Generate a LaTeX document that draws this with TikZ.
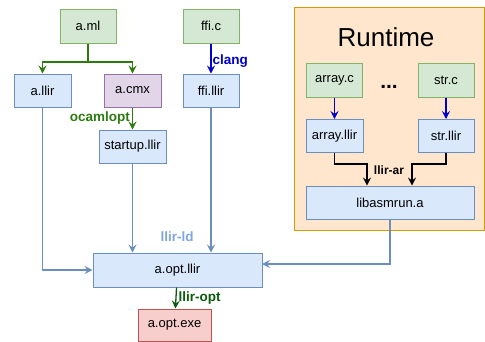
\documentclass[tikz,border=0pt]{standalone}
\usepackage{fontspec}
\setmainfont{Liberation Sans}
\usetikzlibrary{positioning,arrows.meta,calc}

\definecolor{grfill}{HTML}{D5E8D4}
\definecolor{grline}{HTML}{82B366}
\definecolor{blfill}{HTML}{DAE8FC}
\definecolor{blline}{HTML}{6C8EBF}
\definecolor{pufill}{HTML}{E1D5E7}
\definecolor{puline}{HTML}{9673A6}
\definecolor{rdfill}{HTML}{F8CECC}
\definecolor{rdline}{HTML}{B85450}
\definecolor{orfill}{HTML}{FFE6CC}
\definecolor{orline}{HTML}{D79B00}
\definecolor{toolgreen}{HTML}{2D7A10}
\definecolor{optgreen}{HTML}{0B5A0B}
\definecolor{ldblue}{HTML}{7EA6E0}
\definecolor{ccblue}{HTML}{0000CC}

\begin{document}
\begin{tikzpicture}[
  x=1pt, y=-1pt,
  font=\fontsize{13}{15}\selectfont,
  >={Stealth[length=8pt,width=8pt,inset=3pt]},
  srcbox/.style={draw=grline, fill=grfill, line width=1pt, minimum width=56pt, minimum height=34pt, inner sep=0pt},
  irbox/.style={draw=blline, fill=blfill, line width=1pt, minimum width=57pt, minimum height=33pt, inner sep=0pt},
  cmxbox/.style={draw=puline, fill=pufill, line width=1pt, minimum width=57pt, minimum height=33pt, inner sep=0pt},
  exebox/.style={draw=rdline, fill=rdfill, line width=1pt, minimum width=73pt, minimum height=32pt, inner sep=0pt},
  linkmap/.style={->, draw=blline, line width=1.1pt},
  mlmap/.style={->, draw=toolgreen, line width=1.3pt},
  ccmap/.style={->, draw=ccblue, line width=1.4pt},
  armap/.style={->, draw=black, line width=1.1pt},
  toollbl/.style={font=\fontsize{13.5}{15}\selectfont\bfseries, inner sep=1pt}
]
  \useasboundingbox (0,0) rectangle (485,341);

  % runtime frame
  \draw[draw=orline, fill=orfill, line width=1pt] (294,7) rectangle (484,230);
  \node[font=\fontsize{26}{29}\selectfont] (rttitle) at (386,37) {Runtime};

  % sources
  \node[srcbox] (aml) at (88,26) {a.ml};
  \node[srcbox] (ffic) at (211,26) {ffi.c};
  \node[srcbox] (arrayc) at (334.5,80) {array.c};
  \node[srcbox] (strc) at (446,80) {str.c};
  \node[font=\fontsize{21}{23}\selectfont\bfseries] (rtdots) at (389,87) {...};

  % llir files
  \node[irbox] (allir) at (42.5,90.5) {a.llir};
  \node[cmxbox] (acmx) at (132.5,90.5) {a.cmx};
  \node[irbox, minimum width=56pt] (ffillir) at (211,90.5) {ffi.llir};
  \node[irbox, minimum width=67pt] (startup) at (132.5,146.5) {startup.llir};
  \node[irbox] (arrayllir) at (334.5,136) {array.llir};
  \node[irbox, minimum width=56pt] (strllir) at (446,136) {str.llir};
  \node[irbox, minimum width=168pt] (libasm) at (390,202.5) {libasmrun.a};
  \node[irbox, minimum width=169pt, minimum height=34pt] (aopt) at (177.5,270) {a.opt.llir};
  \node[exebox] (aexe) at (174.5,325) {a.opt.exe};

  % ocamlopt
  \coordinate (mlsplit) at (88,62);
  \draw[draw=toolgreen, line width=1.3pt] (aml) -- (mlsplit);
  \draw[mlmap] (mlsplit) -| (allir);
  \draw[mlmap] (mlsplit) -| (acmx);
  \draw[mlmap] (acmx) -- (startup) node[toollbl, text=toolgreen, midway, left=1pt] {ocamlopt};

  % clang
  \draw[ccmap] (ffic) -- (ffillir) node[toollbl, text=ccblue, pos=0.6, right=0pt] {clang};
  \draw[ccmap] (arrayc) -- (arrayllir);
  \draw[ccmap] (strc) -- (strllir);

  % llir-ar
  \draw[armap] (arrayllir.south) -- ++(0,11) -| ([xshift=-23pt]libasm.north);
  \draw[armap] (strllir.south) -- ++(0,11) -| ([xshift=22pt]libasm.north);
  \node[toollbl, font=\fontsize{12}{14}\selectfont\bfseries] (arlbl) at (389,170) {llir-ar};

  % llir-ld
  \coordinate (rtin) at (262,264);
  \draw[linkmap] (allir.south) |- (aopt.west);
  \draw[linkmap] (startup.south) -- (startup.south |- aopt.north);
  \draw[linkmap] (ffillir.south) -- (ffillir.south |- aopt.north);
  \draw[linkmap] (libasm.south) |- (rtin);
  \node[toollbl, text=ldblue] (ldlbl) at (177,237) {llir-ld};

  % llir-opt
  \draw[mlmap, draw=optgreen] (aopt) -- (aexe) node[toollbl, text=optgreen, midway, right=1pt] {llir-opt};
\end{tikzpicture}
\end{document}
